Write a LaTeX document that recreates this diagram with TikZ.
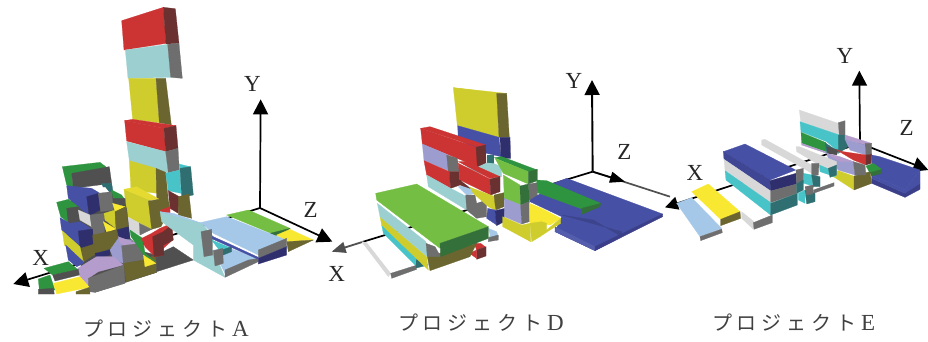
\documentclass[tikz,border=0pt]{standalone}
\usepackage{fontspec}
\setmainfont{Liberation Serif}
\newfontfamily\cjk[LetterSpace=24]{Noto Sans CJK JP}
\usetikzlibrary{arrows.meta}
\definecolor{rd}{HTML}{CC3333}\definecolor{rdD}{HTML}{6B3030}
\definecolor{cyL}{HTML}{9CD0D0}\definecolor{gy}{HTML}{6E6E6E}
\definecolor{ye}{HTML}{CFCD2D}\definecolor{yeD}{HTML}{6B6630}
\definecolor{yeB}{HTML}{F8E832}\definecolor{bl}{HTML}{4650A5}
\definecolor{blD}{HTML}{2F2F6E}\definecolor{gr}{HTML}{2F9440}
\definecolor{grD}{HTML}{34703A}\definecolor{li}{HTML}{74BE44}
\definecolor{cyB}{HTML}{48C4C8}\definecolor{te}{HTML}{2F6F72}
\definecolor{lil}{HTML}{B49CCC}\definecolor{pe}{HTML}{9C9CCF}
\definecolor{sk}{HTML}{A5C8E8}\definecolor{dg}{HTML}{505050}
\definecolor{wh}{HTML}{D8D8D8}
\newcommand\pg[2]{\path[fill=#1,draw=#1,line width=.25pt] plot coordinates {#2} -- cycle;}
\newcommand\capt[1]{{\cjk\fontsize{20}{20}\selectfont プロジェクト}\hspace{5pt}{\fontsize{23}{23}\selectfont #1}}
\tikzset{
  axisline/.style={black,line width=1.7pt,-{Triangle[length=15pt,width=15pt]}},
  axislabel/.style={font=\fontsize{23}{23}\selectfont,text=black!85,inner sep=0pt},
  caption/.style={text=black!75,inner sep=0pt,anchor=west}
}
\begin{document}
\begin{tikzpicture}[x=1pt,y=-1pt]
\useasboundingbox (0,0) rectangle (928,341);
%%%%%% Project A
\begin{scope}[scale=1/3]
\coordinate (oA) at (780,624);
\coordinate (yA) at (782,298);
\coordinate (zA) at (997,725);
\coordinate (xA) at (40,852);
\draw[axisline] (oA) -- (yA);
\draw[axisline] (oA) -- (zA);
\draw[axisline] (oA) -- (xA);
% tower
\pg{rd}{(365,62)(490,22)(498,130)(372,150)}
\pg{rdD}{(490,22)(526,26)(537,130)(498,132)}
\pg{cyL}{(376,150)(503,133)(512,232)(384,235)}
\pg{gy}{(503,133)(537,130)(547,235)(512,232)}
\pg{ye}{(386,235)(468,235)(478,368)(398,358)}
\pg{yeD}{(468,235)(497,235)(514,375)(478,368)}
\pg{rd}{(374,362)(492,385)(497,455)(380,423)}
\pg{rd}{(374,362)(398,358)(528,377)(492,385)}
\pg{rdD}{(492,385)(528,377)(534,445)(497,455)}
\pg{cyL}{(380,425)(497,455)(505,520)(388,482)}
\pg{gy}{(497,455)(534,445)(538,510)(505,518)}
\pg{ye}{(388,482)(468,505)(472,580)(393,570)}
\pg{yeD}{(468,505)(497,517)(505,600)(470,600)}
\pg{cyB}{(497,520)(540,510)(543,580)(505,572)}
\pg{cyB}{(537,492)(570,500)(540,508)}
\pg{te}{(540,505)(572,500)(580,585)(545,592)}
\pg{rdD}{(505,572)(538,590)(535,640)(510,625)}
\pg{yeD}{(535,590)(567,582)(575,655)(535,645)}
% yellow front block
\pg{ye}{(372,568)(450,600)(455,688)(382,650)}
\pg{yeB!50!ye}{(372,568)(410,560)(478,598)(450,600)}
\pg{yeD}{(445,603)(478,598)(505,600)(510,625)(483,680)(455,688)}
\pg{rd}{(478,632)(510,620)(510,645)}
\pg{wh}{(382,650)(418,670)(420,705)(385,688)}
\pg{gy}{(418,670)(455,688)(420,705)}
\end{scope}
% left stack of A
\begin{scope}[shift={(30,155)},scale=1/3]
\pg{dg}{(115,140)(240,100)(290,160)(300,250)(340,290)(378,300)(380,352)(195,412)(160,340)(110,280)}
\pg{gr}{(97,35)(210,22)(240,45)(125,55)(130,102)(110,90)}
\pg{dg}{(125,55)(238,35)(245,85)(130,100)}
\pg{te}{(215,85)(245,85)(250,115)(225,110)}
\pg{white}{(190,100)(225,97)(240,115)(205,118)}
\pg{bl}{(110,92)(185,100)(210,115)(170,125)(175,180)(115,130)}
\pg{blD}{(170,125)(205,115)(210,165)(178,182)}
\pg{gy}{(205,115)(245,110)(250,165)(212,170)}
\pg{gr}{(245,105)(275,120)(285,135)(250,130)}
\pg{dg}{(250,130)(285,130)(288,155)(250,145)}
\pg{yeB}{(248,145)(285,155)(255,170)}
\pg{gr}{(80,142)(115,133)(145,155)(112,160)(118,205)(92,185)}
\pg{dg}{(110,160)(145,155)(150,195)(115,205)}
\pg{wh}{(145,165)(180,180)(185,215)(150,195)}
\pg{gy}{(180,180)(222,175)(224,240)(188,240)}
\pg{ye}{(222,175)(255,165)(258,220)(225,195)}
\pg{yeD}{(255,170)(288,155)(295,215)(258,222)}
\pg{yeB}{(220,200)(258,222)(230,232)}
\pg{bl}{(90,188)(120,205)(150,200)(182,220)(145,232)(150,275)(95,225)}
\pg{blD}{(145,228)(188,222)(190,268)(150,278)}
\pg{blD}{(262,225)(295,215)(300,250)(270,258)}
\pg{yeD}{(188,240)(260,225)(268,270)(200,295)(160,320)(155,280)(190,268)}
\pg{ye}{(97,228)(150,275)(160,320)(103,270)}
\pg{bl}{(107,270)(160,320)(160,325)(140,335)(115,315)}
\pg{blD}{(195,295)(240,285)(240,300)(200,310)}
\pg{pe}{(240,285)(265,250)(305,255)(280,295)(280,325)(250,310)}
\pg{lil}{(265,245)(300,258)(340,268)(285,275)(270,262)}
\pg{lil}{(143,340)(200,305)(250,305)(280,330)(205,350)(175,370)(178,395)(150,365)}
\pg{gy}{(175,370)(282,330)(285,385)(195,412)(175,410)}
\pg{gy}{(275,272)(335,265)(340,315)(280,325)}
\pg{yeD}{(282,325)(340,315)(378,300)(380,352)(288,380)}
\pg{gr}{(300,225)(338,250)(345,295)(378,320)(342,300)(303,245)}
\pg{yeB}{(340,300)(378,325)(345,335)}
\pg{gr}{(42,340)(115,320)(145,345)(68,360)}
\pg{dg}{(68,360)(145,343)(148,360)(75,378)}
\pg{gr}{(25,372)(60,360)(75,405)(28,405)}
\pg{dg}{(25,403)(70,400)(73,417)(25,417)}
\pg{yeB}{(70,385)(150,365)(178,397)(80,417)}
\pg{yeD}{(138,410)(178,397)(180,417)(138,417)}
\end{scope}
% panels of A
\begin{scope}[shift={(130,190)},scale=1/3]
\pg{dg}{(78,195)(130,170)(190,210)(80,245)}
\pg{rd}{(35,145)(65,130)(90,115)(125,100)(128,150)(100,175)(100,195)(75,200)(45,170)}
\pg{rdD}{(68,140)(100,125)(125,105)(130,150)(100,165)(102,195)(72,200)}
\pg{li}{(290,75)(355,60)(480,115)(435,135)}
\pg{grD}{(420,130)(480,115)(470,125)(435,138)}
\pg{yeB}{(440,135)(480,118)(550,150)(470,155)}
\pg{yeD}{(470,155)(550,150)(475,185)}
\pg{cyL}{(90,65)(215,100)(250,140)(245,180)(250,180)(285,262)(190,210)(190,165)(95,95)}
\pg{sk}{(90,65)(130,70)(210,98)(290,80)(470,150)(385,195)(250,130)(215,100)}
\pg{sk}{(250,180)(300,175)(385,205)(285,250)}
\pg{cyB}{(245,150)(305,175)(275,190)}
\pg{te}{(275,180)(305,170)(305,185)(280,195)}
\pg{gy}{(285,262)(285,240)(355,210)(385,205)(385,215)(300,255)}
\pg{gy}{(385,180)(470,145)(470,170)(385,205)}
\pg{blD}{(385,205)(470,170)(470,195)(385,222)}
\pg{bl}{(245,138)(290,158)(385,202)(385,208)(290,166)(245,146)}
\pg{gy}{(213,125)(245,118)(248,195)(222,200)}
\pg{gy}{(250,182)(278,175)(280,220)(255,228)}
\end{scope}
\begin{scope}[scale=1/3]
\node[axislabel] (lyA) at (757,253) {Y};
\node[axislabel] (lzA) at (932,629) {Z};
\node[axislabel] (lxA) at (122,775) {X};
\end{scope}
\node[caption] (capA) at (83,328.5) {\capt{A}};
%%%%%% Project D
\begin{scope}[shift={(320,60)},scale=1/3]
\coordinate (oD) at (818,335);
\coordinate (yD) at (816,60);
\coordinate (zD) at (915,365);
\coordinate (zDe) at (1050,410);
\coordinate (xD) at (35,575);
\coordinate (xDm) at (130,545);
\draw[black,line width=1.9pt,-{Triangle[length=15pt,width=15pt]}] (oD) -- (yD);
\draw[black,line width=1.7pt] (oD) -- (xDm);
\draw[dg,line width=1.7pt] (oD) -- (zDe);
\draw[black,line width=1.7pt,-{Triangle[length=15pt,width=11pt]}] (oD) -- (zD);
\draw[dg,line width=1.8pt,-{Triangle[length=14pt,width=11pt]}] (xDm) -- (xD);
% blue big
\pg{bl}{(700,370)(740,355)(1028,462)(825,572)(705,515)(725,470)(630,425)(630,405)(655,405)}
\pg{bl!85!black}{(725,465)(905,515)(905,530)(820,480)}
\pg{bl!92!white}{(705,500)(825,560)(825,572)(705,515)}
\pg{blD!50!bl}{(825,560)(1028,462)(1028,470)(825,572)}
% yellow top
\pg{ye}{(400,83)(530,100)(537,232)(412,197)}
\pg{ye}{(400,83)(558,100)(530,102)}
\pg{yeD}{(530,100)(560,100)(568,232)(537,232)}
\pg{bl}{(413,197)(537,232)(543,290)(500,280)(415,240)}
\pg{blD}{(540,232)(570,232)(572,295)(543,295)}
\pg{te}{(500,285)(520,285)(520,310)(500,310)}
% cyan back
\pg{cyL}{(420,305)(520,310)(545,320)(545,350)(470,340)}
\pg{sk}{(415,380)(440,375)(470,400)(440,405)}
% red bars
\pg{rd}{(302,205)(330,200)(497,255)(470,260)}
\pg{rd}{(302,205)(470,262)(472,320)(307,252)}
\pg{rdD}{(468,262)(497,255)(498,308)(472,320)}
\pg{pe}{(307,252)(385,285)(385,332)(312,302)}
\pg{gy}{(380,285)(412,295)(418,335)(385,335)}
\pg{rd}{(312,302)(388,335)(392,385)(320,345)}
\pg{rdD}{(388,335)(418,335)(420,375)(392,385)}
\pg{cyL}{(320,345)(392,385)(440,410)(440,450)(325,380)}
\pg{gy}{(437,405)(465,405)(470,430)(500,420)(500,470)(470,475)(440,450)}
\pg{rd}{(415,305)(440,305)(540,350)(510,355)}
\pg{rd}{(415,310)(510,357)(512,405)(420,360)}
\pg{rdD}{(510,357)(540,350)(540,395)(512,405)}
\pg{rdD}{(420,360)(450,385)(420,375)}
\pg{ye}{(450,382)(525,410)(525,450)(505,440)(460,400)}
\pg{yeD}{(522,405)(552,398)(552,440)(527,450)}
\pg{bl}{(503,445)(525,450)(530,495)(500,475)}
\pg{blD}{(525,452)(555,445)(552,485)(530,497)}
% green right
\pg{gr}{(523,293)(545,290)(652,330)(625,335)}
\pg{li}{(525,295)(625,335)(625,372)(550,340)}
\pg{grD}{(625,335)(652,328)(652,362)(625,372)}
\pg{gy}{(625,372)(652,368)(652,405)(628,420)}
\pg{li}{(550,345)(600,375)(602,435)(553,415)}
\pg{grD}{(600,378)(625,372)(628,425)(602,435)}
\pg{pe}{(553,415)(602,435)(605,492)(553,470)}
\pg{gy}{(602,435)(628,425)(628,485)(605,492)}
\pg{yeB}{(628,430)(665,445)(722,475)(690,495)(660,490)(630,490)}
\pg{ye}{(548,470)(605,495)(630,490)(632,545)(548,500)}
\pg{ye}{(630,490)(665,485)(680,490)(680,510)(722,475)(722,490)(690,510)(660,530)(635,545)}
% dark green bar
\pg{gr}{(650,360)(680,362)(842,430)(785,447)(652,398)}
\pg{grD}{(785,445)(842,430)(840,440)(785,463)}
% lime slab
\pg{sk}{(505,505)(530,515)(535,530)(505,540)(510,525)}
\pg{gy}{(505,533)(535,525)(535,540)(505,545)}
\pg{rd}{(462,550)(482,550)(495,560)(470,570)}
\pg{rdD}{(470,570)(498,560)(498,588)(470,598)}
\pg{rd}{(448,580)(470,570)(470,595)}
\pg{yeD}{(322,590)(470,550)(450,590)(330,632)}
\pg{te}{(290,590)(325,615)(285,625)}
\pg{cyB}{(185,495)(290,590)(285,615)(190,520)}
\pg{ye}{(180,470)(320,590)(325,630)(185,495)}
\pg{cyL}{(172,430)(318,545)(322,590)(180,470)}
\pg{gy}{(318,550)(345,560)(362,590)(322,590)}
\pg{li}{(167,400)(290,372)(505,500)(360,550)(360,565)(170,420)}
\pg{grD}{(360,550)(505,500)(505,535)(362,590)}
\pg{wh}{(125,545)(140,548)(212,640)(205,650)}
\pg{gy}{(212,640)(285,617)(290,628)(215,655)}
\node[axislabel] (lyD) at (762,62) {Y};
\node[axislabel] (lzD) at (913,277) {Z};
\node[axislabel] (lxD) at (50,642) {X};
\end{scope}
\node[caption] (capD) at (398,323) {\capt{D}};
%%%%%% Project E
\begin{scope}[shift={(650,30)},scale=1/3]
\coordinate (oE) at (630,340);
\coordinate (yE) at (628,122);
\coordinate (zE) at (835,420);
\coordinate (xE) at (45,532);
\draw[axisline] (oE) -- (yE);
\draw[axisline] (oE) -- (zE);
\draw[black,line width=1.7pt,-{Triangle[length=13pt,width=13pt]}] (oE) -- (xE);
\end{scope}
% upper stack of E
\begin{scope}[shift={(790,100)},scale=1/3]
\pg{bl}{(245,165)(270,170)(390,210)(345,270)(245,225)}
\pg{blD!50!bl}{(245,235)(345,280)(345,292)(245,250)}
\pg{blD!50!bl}{(345,275)(390,250)(390,268)(345,292)}
\pg{bl}{(345,270)(390,210)(390,250)(345,280)(245,235)(245,225)}
\pg{wh}{(28,30)(145,70)(148,105)(32,65)}
\pg{gy}{(145,68)(165,62)(165,105)(148,108)}
\pg{cyB}{(30,65)(148,105)(145,155)(110,125)(33,95)}
\pg{te}{(145,105)(165,105)(175,140)(145,160)}
\pg{gr}{(33,97)(108,128)(108,155)(35,130)}
\pg{lil}{(35,130)(105,155)(110,160)(35,135)}
\pg{te}{(105,128)(145,155)(140,155)(110,160)}
\pg{lil}{(165,105)(175,108)(245,130)(225,135)(165,118)}
\pg{pe}{(165,118)(225,135)(228,165)(180,150)}
\pg{gy}{(225,130)(245,130)(245,162)(228,165)}
\pg{dg}{(110,140)(145,150)(140,165)(115,160)}
\pg{rd}{(140,150)(160,155)(228,165)(228,195)(190,180)}
\pg{rdD}{(228,165)(245,162)(243,190)(228,195)}
\pg{gr}{(228,198)(250,190)(275,208)(240,220)}
\pg{grD}{(240,218)(275,208)(275,220)(245,228)}
\pg{ye}{(115,220)(145,212)(195,230)(192,270)}
\pg{yeD}{(192,228)(240,215)(245,250)(192,270)}
\pg{pe}{(110,160)(190,185)(195,225)(145,210)(115,175)}
\pg{lil}{(110,160)(150,170)(190,185)(150,185)}
\pg{gy}{(190,185)(225,195)(228,225)(195,225)}
\pg{wh}{(18,140)(28,140)(140,185)(140,225)(88,195)(20,155)}
\pg{cyB}{(88,195)(135,215)(135,230)(90,215)}
\pg{te}{(115,205)(140,195)(140,225)(120,232)}
\end{scope}
\begin{scope}[shift={(650,30)},scale=1/3]
% long white + bits
\pg{wh}{(335,330)(345,328)(485,405)(485,430)(460,415)(335,345)}
\pg{gy}{(485,400)(507,400)(505,435)(485,438)}
\pg{cyB}{(460,430)(488,435)(488,468)(462,460)}
\pg{te}{(485,435)(510,440)(510,470)(490,470)}
\pg{gy}{(490,480)(552,458)(552,468)(490,490)}
\pg{cyB}{(445,490)(465,480)(465,520)(445,510)}
\pg{te}{(465,480)(495,490)(495,515)(470,522)}
\pg{gy}{(465,470)(490,465)(488,492)(470,495)}
% big block
\pg{bl}{(220,365)(285,342)(437,420)(360,450)}
\pg{blD!30!bl}{(220,365)(360,450)(362,483)(222,388)}
\pg{blD}{(360,452)(438,430)(440,462)(362,483)}
\pg{wh}{(222,388)(362,483)(362,520)(225,420)}
\pg{gy}{(362,483)(440,462)(440,490)(362,518)}
\pg{cyB}{(225,422)(362,518)(362,555)(228,450)}
\pg{te}{(362,520)(442,490)(442,525)(362,555)}
\pg{gy}{(438,420)(460,415)(460,460)(440,462)}
\pg{te}{(440,462)(460,450)(460,480)(440,490)}
\pg{wh}{(275,545)(312,575)(310,598)(275,565)}
\pg{gy}{(310,578)(367,555)(367,578)(312,598)}
% yellow, sky
\pg{sk}{(80,520)(125,503)(215,595)(150,620)}
\pg{gy}{(150,620)(215,597)(217,608)(152,632)}
\pg{yeB}{(125,485)(175,462)(270,545)(212,568)}
\pg{yeD}{(212,568)(270,545)(272,565)(212,587)}
\node[axislabel] (lyE) at (585,78) {Y};
\node[axislabel] (lzE) at (770,293) {Z};
\node[axislabel] (lxE) at (135,428) {X};
\end{scope}
\node[caption] (capE) at (712,323) {\capt{E}};
\end{tikzpicture}
\end{document}
